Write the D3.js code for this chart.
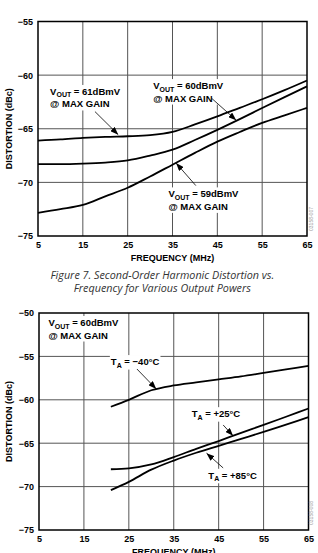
<!DOCTYPE html>
<html>
<head>
<meta charset="utf-8">
<script src="https://cdn.jsdelivr.net/npm/d3@7"></script>
<style>
  html, body { margin: 0; padding: 0; background: #fff; }
  svg { display: block; }
  text { font-family: "Liberation Sans", Arial, sans-serif; }
  .lbl { font-weight: bold; font-size: 9.5px; fill: #000; }
  .ax { font-weight: bold; font-size: 9px; fill: #000; }
  .cap { font-family: "Open Sans", "Noto Sans", sans-serif; font-style: italic; fill: #333; }
  .wm { font-size: 5px; fill: #999; }
</style>
</head>
<body>
<svg id="chart" width="318" height="553"></svg>
<script>
// shared axes
const freqTicks = [5, 15, 25, 35, 45, 55, 65];
const fig7Ticks = [-75, -70, -65, -60, -55];
const fig8Ticks = [-75, -70, -65, -60, -55, -50];

// Figure 7: second-order HD vs frequency for various output powers
const fig7Freq = [5, 10, 15, 20, 25, 30, 35, 40, 45, 50, 55, 60, 65];
const vout61 = [-66.1, -66.0, -65.85, -65.75, -65.7, -65.6, -65.3, -64.6, -63.85, -63.05, -62.25, -61.4, -60.5];
const vout60 = [-68.3, -68.3, -68.25, -68.15, -67.95, -67.5, -66.95, -66.05, -65.1, -64.1, -63.07, -62.05, -61.05];
const vout59 = [-72.85, -72.5, -72.1, -71.3, -70.5, -69.45, -68.35, -67.25, -66.2, -65.3, -64.45, -63.75, -63.05];

// Figure 8: second-order HD vs frequency over temperature
const fig8Freq = [21, 25, 30, 35, 40, 45, 50, 55, 60, 65];
const taMinus40 = [-60.8, -60.0, -58.9, -58.35, -58.0, -57.65, -57.3, -56.9, -56.5, -56.1];
const taPlus25 = [-68.0, -67.9, -67.45, -66.6, -65.65, -64.75, -63.8, -62.9, -61.95, -61.0];
const taPlus85 = [-70.4, -69.45, -68.05, -67.0, -66.1, -65.3, -64.5, -63.7, -62.85, -62.0];

// annotation anchors in data units (MHz, dBc)
const fig7Notes = [
  { sub: 'OUT', v: ' = 61dBmV', line2: '@ MAX GAIN', at: [7.7, -61.85], from: [17.7, -63.4], to: [22.9, -65.55] },
  { sub: 'OUT', v: ' = 60dBmV', line2: '@ MAX GAIN', at: [30.7, -61.3], from: [43.7, -62.15], to: [49.2, -64.2] },
  { sub: 'OUT', v: ' = 59dBmV', line2: '@ MAX GAIN', at: [34.1, -71.4], from: [40.2, -70.3], to: [35.8, -68.2] }
];
const fig8Notes = [
  { sub: 'OUT', v: ' = 60dBmV', line2: '@ MAX GAIN', at: [7.1, -51.5] },
  { sym: 'T', sub: 'A', v: ' = \u221240\u00b0C', at: [21.0, -56.0], from: [26.8, -56.45], to: [31.1, -58.75] },
  { sym: 'T', sub: 'A', v: ' = +25\u00b0C', at: [39.0, -62.0], from: [46.0, -62.9], to: [48.2, -64.15] },
  { sym: 'T', sub: 'A', v: ' = +85\u00b0C', at: [42.7, -69.1], from: [46.0, -67.85], to: [42.3, -66.15] }
];

const captionLines = ['Figure 7. Second-Order Harmonic Distortion vs.', 'Frequency for Various Output Powers'];
const captionWidth = 224; // width of the first caption line in the reference

const svg = d3.select('#chart');

svg.append('defs').append('marker')
  .attr('id', 'arrow')
  .attr('markerUnits', 'userSpaceOnUse')
  .attr('markerWidth', 8).attr('markerHeight', 6)
  .attr('refX', 8).attr('refY', 3)
  .attr('orient', 'auto')
  .append('path').attr('d', 'M0,0 L8,3 L0,6 Z').attr('fill', '#000');

const fmt = d => (d < 0 ? '\u2212' + Math.abs(d) : String(d));

function drawPanel(cfg) {
  const g = svg.append('g');
  const x = d3.scaleLinear().domain([5, 65]).range([cfg.left, cfg.right]);
  const y = d3.scaleLinear().domain([-75, cfg.yTicks[cfg.yTicks.length - 1]]).range([cfg.bottom, cfg.top]);

  // grid
  g.append('g').selectAll('line').data(freqTicks.slice(1, -1)).join('line')
    .attr('x1', d => x(d)).attr('x2', d => x(d))
    .attr('y1', cfg.top).attr('y2', cfg.bottom)
    .attr('stroke', '#555').attr('stroke-width', 1);
  g.append('g').selectAll('line').data(cfg.yTicks.slice(1, -1)).join('line')
    .attr('y1', d => y(d)).attr('y2', d => y(d))
    .attr('x1', cfg.left).attr('x2', cfg.right)
    .attr('stroke', '#555').attr('stroke-width', 1);

  // curves
  const line = d3.line().x(d => x(d[0])).y(d => y(d[1])).curve(d3.curveMonotoneX);
  cfg.series.forEach(vals => {
    g.append('path')
      .datum(cfg.freq.map((f, i) => [f, vals[i]]))
      .attr('d', line)
      .attr('fill', 'none').attr('stroke', '#000').attr('stroke-width', 1.8);
  });

  // annotations
  cfg.notes.forEach(n => {
    const tg = g.append('g');
    const bg = tg.append('rect').attr('fill', '#fff');
    const t = tg.append('text').attr('class', 'lbl')
      .attr('x', x(n.at[0])).attr('y', y(n.at[1]));
    t.append('tspan').text(n.sym || 'V');
    t.append('tspan').attr('font-size', '7px').attr('dy', 2.5).text(n.sub);
    t.append('tspan').attr('dy', -2.5).text(n.v);
    if (n.line2) {
      tg.append('text').attr('class', 'lbl')
        .attr('x', x(n.at[0])).attr('y', y(n.at[1]) + 12.5).text(n.line2);
    }
    const bb = tg.node().getBBox();
    bg.attr('x', bb.x - 1).attr('y', bb.y - 1).attr('width', bb.width + 2).attr('height', bb.height + 2);
    if (n.from) {
      g.append('line')
        .attr('x1', x(n.from[0])).attr('y1', y(n.from[1]))
        .attr('x2', x(n.to[0])).attr('y2', y(n.to[1]))
        .attr('stroke', '#000').attr('stroke-width', 0.8)
        .attr('marker-end', 'url(#arrow)');
    }
  });

  // frame
  g.append('rect')
    .attr('x', cfg.left).attr('y', cfg.top)
    .attr('width', cfg.right - cfg.left).attr('height', cfg.bottom - cfg.top)
    .attr('fill', 'none').attr('stroke', '#000').attr('stroke-width', 1.5);

  // axes
  const xAxis = g.append('g').attr('transform', `translate(0,${cfg.bottom})`)
    .call(d3.axisBottom(x).tickValues(freqTicks).tickSize(0).tickPadding(6).tickFormat(fmt));
  const yAxis = g.append('g').attr('transform', `translate(${cfg.left},0)`)
    .call(d3.axisLeft(y).tickValues(cfg.yTicks).tickSize(0).tickPadding(5).tickFormat(fmt));
  [xAxis, yAxis].forEach(a => {
    a.select('.domain').remove();
    a.selectAll('text').attr('class', 'ax').attr('font-family', null).attr('font-size', null);
  });

  g.append('text').attr('class', 'ax').attr('text-anchor', 'middle')
    .attr('x', (cfg.left + cfg.right) / 2).attr('y', cfg.bottom + 24.5)
    .text('FREQUENCY (MHz)');
  g.append('text').attr('class', 'ax').attr('text-anchor', 'middle')
    .attr('transform', `translate(12,${(cfg.top + cfg.bottom) / 2}) rotate(-90)`)
    .text('DISTORTION (dBc)');

  g.append('text').attr('class', 'wm').attr('text-anchor', 'middle')
    .attr('transform', `translate(313,${cfg.bottom - 17}) rotate(-90)`)
    .text(cfg.mark);
}

drawPanel({
  left: 38, right: 307, top: 21.5, bottom: 236,
  yTicks: fig7Ticks, freq: fig7Freq, series: [vout61, vout60, vout59],
  notes: fig7Notes, mark: '03158-007'
});

drawPanel({
  left: 39, right: 308.5, top: 313, bottom: 530,
  yTicks: fig8Ticks, freq: fig8Freq, series: [taMinus40, taPlus25, taPlus85],
  notes: fig8Notes, mark: '03158-008'
});

// caption: size the font so the first line matches the reference width
const cap = svg.append('g').selectAll('text').data(captionLines).join('text')
  .attr('class', 'cap').attr('text-anchor', 'middle')
  .attr('x', 162.3).attr('y', (d, i) => 278.5 + i * 13.5)
  .style('font-size', '10px')
  .text(d => d);
const w0 = cap.node().getComputedTextLength() || captionWidth;
cap.style('font-size', (10 * captionWidth / w0).toFixed(2) + 'px');
</script>
</body>
</html>
